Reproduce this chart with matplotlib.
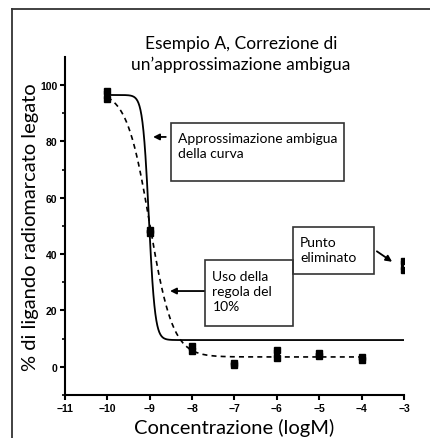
import numpy as np
import matplotlib
matplotlib.use("Agg")
import matplotlib.pyplot as plt
from matplotlib.lines import Line2D
from matplotlib.patches import Rectangle

# replicate measurements (two per concentration)
log_conc = [-10, -9, -8, -7, -6, -5, -4]
rep_a = [95.0, 47.5, 5.5, 0.5, 3.0, 4.0, 2.5]
rep_b = [98.0, 48.5, 7.5, 1.5, 6.0, 5.0, 3.5]

# point removed from the fit
outlier_x = -3
outlier_a = 34.5
outlier_b = 37.5

# ambiguous fit (solid) and corrected fit (dashed): top, bottom, logIC50, hill
fit_ambiguous = (96.5, 9.5, -9.02, 6.0)
fit_corrected = (98.0, 3.5, -9.0, 1.6)

title = "Esempio A, Correzione di\nun\u2019approssimazione ambigua"
xlabel = "Concentrazione (logM)"
ylabel = "% di ligando radiomarcato legato"
note_fit = "Approssimazione ambigua\ndella curva"
note_rule = "Uso della\nregola del\n10%"
note_drop = "Punto\neliminato"


def sigmoid(x, top, bottom, logic50, hill):
    return bottom + (top - bottom) / (1 + 10 ** (hill * (x - logic50)))


fig = plt.figure(figsize=(4.30, 4.39), dpi=100)
ax = fig.add_axes([0.151, 0.098, 0.7885, 0.770])

# outer frame (top and left only)
fig.add_artist(Line2D([12 / 430, 1], [1 - 10 / 439, 1 - 10 / 439],
                      transform=fig.transFigure, color="#333333", lw=1.3))
fig.add_artist(Line2D([12 / 430, 12 / 430], [0, 1 - 10 / 439],
                      transform=fig.transFigure, color="#333333", lw=1.3))

xs = np.linspace(-10, -3, 600)
ax.plot(xs, sigmoid(xs, *fit_ambiguous), color="black", lw=1.3)
xd = np.linspace(-10, -4, 600)
ax.plot(xd, sigmoid(xd, *fit_corrected), color="black", lw=1.2,
        linestyle=(0, (3, 2.5)))

# replicates as short thick bars
for x, a, b in zip(log_conc, rep_a, rep_b):
    ax.plot([x, x], [a, b], color="black", lw=4.5, solid_capstyle="butt")
    ax.plot([x, x], [a, b], "s", color="black", ms=4.5)
ax.plot([outlier_x, outlier_x], [outlier_a, outlier_b], color="black",
        lw=4.5, solid_capstyle="butt")
ax.plot([outlier_x] * 2, [outlier_a, outlier_b], "s", color="black", ms=4.0)

ax.set_xlim(-11, -3)
ax.set_ylim(-10, 110)
ax.set_xticks(range(-11, -2))
ax.set_yticks(range(0, 101, 20))
ax.set_yticks(range(-10, 110, 20), minor=True)
for s in ["top", "right"]:
    ax.spines[s].set_visible(False)
for s in ["left", "bottom"]:
    ax.spines[s].set_linewidth(1.5)
ax.tick_params(axis="both", which="major", length=3.5, width=1.5,
               labelsize=7.5, pad=2)
ax.tick_params(axis="y", which="minor", length=2.5, width=1.2)
for lab in ax.get_xticklabels() + ax.get_yticklabels():
    lab.set_fontweight("bold")
    lab.set_family("Liberation Sans")

ax.set_xlabel(xlabel, fontsize=14.5, family="Lato", labelpad=4)
ax.set_ylabel(ylabel, fontsize=14.5, family="Lato", labelpad=1)
fig.text(0.56, 0.834, title, ha="center", va="bottom", fontsize=12.5,
         family="Lato", linespacing=1.35)

# annotation boxes
boxes = [
    (-8.50, 66.1, 4.08, 20.5, note_fit, -8.33, 83.5),
    (-7.70, 14.5, 2.08, 23.3, note_rule, -7.52, 34.5),
    (-5.62, 32.9, 1.91, 16.6, note_drop, -5.45, 46.5),
]
for x0, y0, w, h, txt, tx, ty in boxes:
    ax.add_patch(Rectangle((x0, y0), w, h, fill=False, edgecolor="#333333",
                           lw=1.2, clip_on=False))
    ax.text(tx, ty, txt, fontsize=10, family="Lato", va="top", ha="left",
            linespacing=1.3)

arrow = dict(arrowstyle="-|>", color="black", lw=1.3, mutation_scale=9,
             shrinkA=0, shrinkB=0)
ax.annotate("", xy=(-8.92, 81.6), xytext=(-8.62, 81.6), arrowprops=arrow)
ax.annotate("", xy=(-8.52, 26.9), xytext=(-7.72, 26.9), arrowprops=arrow)
ax.annotate("", xy=(-3.28, 37.3), xytext=(-3.64, 41.0), arrowprops=arrow)

fig.savefig("out.png", dpi=100)
